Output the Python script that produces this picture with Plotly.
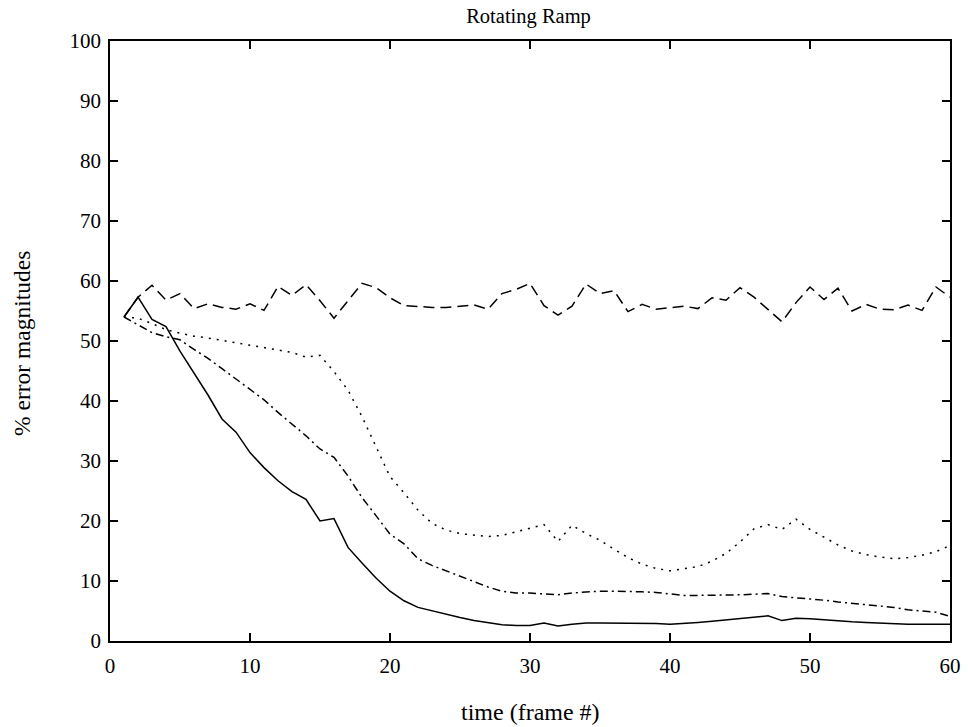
import plotly.graph_objects as go

frames = list(range(1, 61))

solid = [54.0, 57.3, 53.6, 52.4, 48.3, 44.6, 41.0, 37.0, 34.8, 31.4,
         28.9, 26.7, 24.9, 23.6, 20.0, 20.4, 15.6, 13.0, 10.5, 8.3,
         6.7, 5.6, 5.0, 4.4, 3.9, 3.4, 3.05, 2.7, 2.6, 2.6,
         3.0, 2.5, 2.8, 3.0, 3.0, 3.0, 3.0, 3.0, 2.9, 2.8,
         2.9, 3.1, 3.3, 3.5, 3.7, 3.9, 4.2, 3.4, 3.8, 3.7,
         3.5, 3.4, 3.2, 3.1, 3.0, 2.8, 2.8, 2.8, 2.8, 2.8]

dashed = [54.0, 57.3, 59.3, 56.8, 57.9, 55.4, 56.2, 55.6, 55.3, 56.2,
          55.1, 59.1, 57.6, 59.4, 56.7, 53.8, 56.7, 59.6, 58.9, 57.2,
          55.9, 55.7, 55.6, 55.6, 55.8, 56.0, 55.3, 57.9, 58.6, 59.6,
          55.9, 54.3, 55.8, 59.5, 57.9, 58.4, 54.9, 56.1, 55.3, 55.5,
          55.8, 55.4, 57.2, 56.8, 58.9, 57.3, 55.2, 53.2, 56.4, 59.0,
          56.9, 58.8, 55.0, 56.1, 55.3, 55.2, 56.0, 55.1, 59.0, 57.3]

dotted = [54.0, 53.8, 52.9, 51.9, 51.3, 50.8, 50.5, 50.1, 49.6, 49.2,
          48.8, 48.4, 48.1, 47.3, 47.6, 44.9, 41.8, 37.4, 32.4, 27.4,
          24.7, 21.8, 19.6, 18.5, 17.9, 17.6, 17.4, 17.6, 18.2, 18.7,
          19.4, 16.6, 19.3, 17.9, 16.8, 15.3, 13.9, 12.8, 12.1, 11.7,
          12.0, 12.4, 13.3, 14.6, 16.5, 18.7, 19.4, 18.6, 20.3, 18.6,
          17.3, 16.0, 15.0, 14.4, 14.0, 13.7, 13.9, 14.3, 14.9, 15.9]

dashdot = [54.0, 52.7, 51.4, 50.7, 50.2, 48.6, 47.1, 45.4, 43.7, 41.9,
           40.2, 38.1, 36.2, 34.2, 32.0, 30.6, 27.5, 23.9, 20.9, 17.8,
           16.2, 13.7, 12.6, 11.7, 10.7, 9.9, 9.0, 8.3, 8.0, 8.0,
           7.9, 7.7, 8.0, 8.2, 8.3, 8.3, 8.3, 8.2, 8.1, 7.8,
           7.6, 7.6, 7.6, 7.6, 7.7, 7.8, 7.9, 7.4, 7.2, 7.1,
           6.8, 6.5, 6.3, 6.1, 5.8, 5.6, 5.2, 5.0, 4.8, 4.1]

x_ticks = [0, 10, 20, 30, 40, 50, 60]
y_ticks = [0, 10, 20, 30, 40, 50, 60, 70, 80, 90, 100]

fig = go.Figure()
for ys, dash in [(dashed, "11px,6px"), (dotted, "2px,6px"),
                 (dashdot, "8px,4px,2px,4px"), (solid, "solid")]:
    fig.add_trace(go.Scatter(x=frames, y=ys, mode="lines",
                             line=dict(color="black", width=1.5, dash=dash),
                             showlegend=False, hoverinfo="skip"))

font_family = "Liberation Serif, Times New Roman, serif"
axis_common = dict(showgrid=False, zeroline=False, showline=True, mirror="ticks",
                   linecolor="black", linewidth=1.8, ticks="inside", ticklen=8,
                   tickwidth=1.2, tickcolor="black", automargin=False,
                   ticklabeloverflow="allow",
                   tickfont=dict(family=font_family, size=21, color="black"))

fig.update_layout(
    width=968, height=727,
    paper_bgcolor="white", plot_bgcolor="white",
    margin=dict(l=110, r=18, t=41, b=86),
    font=dict(family=font_family, color="black"),
    title=dict(text="Rotating Ramp", x=0.546, xanchor="center", xref="container",
               y=0.978, yanchor="middle", yref="container",
               font=dict(family=font_family, size=20.5, color="black")),
    xaxis=dict(range=[0, 60], tickvals=x_ticks, ticktext=[str(v) for v in x_ticks],
               ticklabelstandoff=5, **axis_common),
    yaxis=dict(range=[0, 100], tickvals=y_ticks, ticktext=[str(v) for v in y_ticks],
               ticklabelstandoff=3, **axis_common),
    annotations=[
        dict(text="time (frame #)", xref="paper", yref="paper", x=0.5, y=0,
             xanchor="center", yanchor="middle", yshift=-71, showarrow=False,
             font=dict(family=font_family, size=24, color="black")),
        dict(text="% error magnitudes", xref="paper", yref="paper", x=0, y=0.5,
             xanchor="center", yanchor="middle", xshift=-88, yshift=-3,
             textangle=-90, showarrow=False,
             font=dict(family=font_family, size=23.5, color="black")),
    ],
)

fig.write_html("out.html",
               config={"displayModeBar": False, "staticPlot": True},
               post_script="document.body.style.margin='0';document.body.style.overflow='hidden';")
